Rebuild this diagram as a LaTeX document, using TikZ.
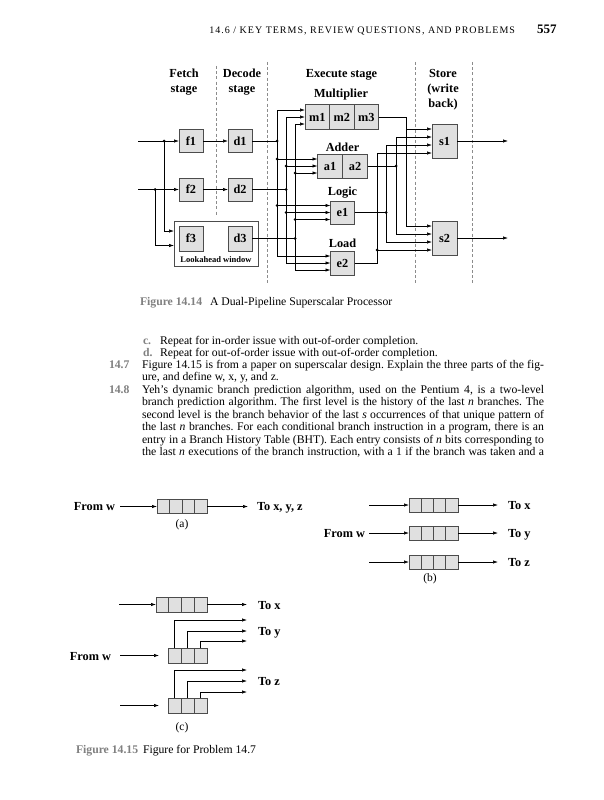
\documentclass[tikz,border=0pt]{standalone}
\usepackage{fontspec}
\setmainfont{Liberation Serif}
\usetikzlibrary{arrows.meta}
\definecolor{boxfill}{gray}{0.88}
\definecolor{boxline}{gray}{0.3}
\definecolor{labgray}{gray}{0.5}
\definecolor{sepgray}{gray}{0.55}
\frenchspacing
\begin{document}
\begin{tikzpicture}[x=1pt,y=-1pt,
  every node/.style={inner sep=0pt,outer sep=0pt},
  unit/.style={draw=boxline,fill=boxfill,line width=0.6pt,minimum width=24pt,minimum height=23pt,font=\fontsize{12.3}{13}\selectfont\bfseries},
  wire/.style={line width=0.65pt},
  arr/.style={wire,-{Latex[length=5pt,width=3.4pt]}},
  jdot/.style={circle,fill=black,minimum size=3pt},
  sep/.style={draw=sepgray,line width=0.6pt,dash pattern=on 3pt off 2.2pt},
  hd/.style={font=\fontsize{12.3}{15}\selectfont\bfseries,align=center},
  cell/.style={draw=boxline,fill=boxfill,line width=0.6pt,minimum height=14pt},
  lbl/.style={font=\fontsize{12.3}{13}\selectfont\bfseries},
  sub/.style={font=\fontsize{11.5}{13}\selectfont},
  body/.style={font=\fontsize{11.7}{12.2}\selectfont\frenchspacing,anchor=base west},
  num/.style={font=\fontsize{11.7}{12.2}\selectfont\bfseries,text=labgray,anchor=base west},
]
\path[fill=white] (0,0) rectangle (604,800);
\useasboundingbox (0,0) rectangle (604,800);

% running head
\node[anchor=base east,font=\fontsize{10}{12}\selectfont\addfontfeatures{LetterSpace=10}] (hdr) at (515,34) {14.6 / KEY TERMS, REVIEW QUESTIONS, AND PROBLEMS};
\node[anchor=base west,font=\fontsize{13}{14}\selectfont\bfseries] (pg) at (537,34) {557};

% ---------------- Figure 14.14 ----------------
\draw[sep] (216,66) -- (216,215);
\draw[sep] (267,62) -- (267,285);
\draw[sep] (415,62) -- (415,285);
\draw[sep] (472,62) -- (472,285);

\node[hd] (hfetch) at (184,82.5) {Fetch\\stage};
\node[hd] (hdec) at (242,82.5) {Decode\\stage};
\node[hd] (hexe) at (341.5,75) {Execute stage};
\node[hd] (hstore) at (443,89.5) {Store\\(write\\back)};

\node[draw=boxline,fill=white,line width=0.6pt,minimum width=84pt,minimum height=45pt] (look) at (216,243.5) {};
\node[font=\fontsize{8.5}{9}\selectfont\bfseries] (lookl) at (216,259.5) {Lookahead window};

\node[unit] (f1) at (191,141) {f1};
\node[unit] (d1) at (240,141) {d1};
\node[unit] (f2) at (191,189.5) {f2};
\node[unit] (d2) at (240,189.5) {d2};
\node[unit,minimum height=25pt] (f3) at (191,238.5) {f3};
\node[unit,minimum height=25pt] (d3) at (240,238.5) {d3};

\node[hd] (lmul) at (341,95) {Multiplier};
\node[unit,minimum width=24.5pt,minimum height=25pt] (m1) at (317.25,117) {m1};
\node[unit,minimum width=24.5pt,minimum height=25pt] (m2) at (341.75,117) {m2};
\node[unit,minimum width=24.5pt,minimum height=25pt] (m3) at (366.25,117) {m3};
\node[hd] (ladd) at (342.5,147) {Adder};
\node[unit,minimum width=25pt,minimum height=24pt] (a1) at (330,166) {a1};
\node[unit,minimum width=25pt,minimum height=24pt] (a2) at (355,166) {a2};
\node[hd] (llog) at (342.5,193) {Logic};
\node[unit] (e1) at (342.5,212.5) {e1};
\node[hd] (lload) at (342.5,243) {Load};
\node[unit,minimum height=24pt] (e2) at (342.5,263) {e2};
\node[unit,minimum width=25pt,minimum height=34pt] (s1) at (444.5,141) {s1};
\node[unit,minimum width=25pt,minimum height=34pt] (s2) at (444.5,238) {s2};

% fetch inputs
\coordinate (in1) at (138,141);
\coordinate (in2) at (138,189.5);
\coordinate (j1) at (164,141);
\coordinate (j2) at (155,189.5);
\coordinate (lw1) at (174,231);
\coordinate (lw2) at (174,245.5);
\draw[arr] (in1) -- (f1);
\draw[arr] (in2) -- (f2);
\draw[arr] (j1) |- (lw1);
\draw[arr] (j2) |- (lw2);
\node[jdot] (dj1) at (j1) {};
\node[jdot] (dj2) at (j2) {};
\draw[arr] (f1) -- (d1);
\draw[arr] (f2) -- (d2);

% dispatch buses
\foreach \bx/\bn/\ym/\ya/\yea/\yeb in {277/1/110/159/205.5/256, 286/2/117/166/212.5/263, 295/3/124/173/219.5/270} {
  \coordinate (bm\bn) at (\bx,\ym);
  \coordinate (ba\bn) at (\bx,\ya);
  \coordinate (be\bn) at (\bx,\yea);
  \coordinate (bl\bn) at (\bx,\yeb);
  \draw[wire] (bm\bn) -- (bl\bn);
  \draw[arr] (bm\bn) -- (bm\bn -| m1.west);
  \draw[arr] (ba\bn) -- (ba\bn -| a1.west);
  \draw[arr] (be\bn) -- (be\bn -| e1.west);
  \draw[arr] (bl\bn) -- (bl\bn -| e2.west);
  \node[jdot] (dA\bn) at (ba\bn) {};
  \node[jdot] (dE\bn) at (be\bn) {};
}
\coordinate (jd1) at (bm1 |- d1);
\coordinate (jd2) at (bm2 |- d2);
\coordinate (jd3) at (bm3 |- d3);
\draw[wire] (d1) -- (jd1);
\draw[wire] (d2) -- (jd2);
\draw[wire] (d3) -- (jd3);
\node[jdot] (dd1) at (jd1) {};
\node[jdot] (dd2) at (jd2) {};
\node[jdot] (dd3) at (jd3) {};

% result buses to store stage
\foreach \ox/\on/\ya/\yb in {406/1/129/226, 396/2/137/234, 386/3/145/242, 377/4/153/250} {
  \coordinate (os\on) at (\ox,\ya);
  \coordinate (ot\on) at (\ox,\yb);
  \draw[arr] (os\on) -- (os\on -| s1.west);
  \draw[arr] (ot\on) -- (ot\on -| s2.west);
}
\coordinate (om) at (406,117);
\coordinate (oa) at (396,166);
\coordinate (oe) at (386,212.5);
\coordinate (ol) at (377,263);
\draw[wire] (m3) -- (om) -- (ot1);
\draw[wire] (a2) -- (oa);
\draw[wire] (os2) -- (ot2);
\draw[wire] (e1) -- (oe);
\draw[wire] (os3) -- (ot3);
\draw[wire] (e2) -- (ol) -- (os4);
\node[jdot] (doa) at (oa) {};
\node[jdot] (doe) at (oe) {};
\node[jdot] (dol) at (ot4) {};

\coordinate (out1) at (508,141);
\coordinate (out2) at (508,238);
\draw[arr] (s1) -- (out1);
\draw[arr] (s2) -- (out2);

% caption 14.14
\node[num] (cap1a) at (140,305.5) {Figure 14.14};
\node[body] (cap1b) at (210,305.5) {A Dual-Pipeline Superscalar Processor};

% ---------------- text ----------------
\node[num] (lc) at (143,344) {c.};
\node[body] (tc) at (160,344) {Repeat for in-order issue with out-of-order completion.};
\node[num] (ld) at (143,356.2) {d.};
\node[body] (td) at (160,356.2) {Repeat for out-of-order issue with out-of-order completion.};
\node[num] (l147) at (109,368.4) {14.7};
\node[body] (t1471) at (142,368.4) {\makebox[402pt][s]{Figure 14.15 is from a paper on superscalar design. Explain the three parts of the fig-}};
\node[body] (t1472) at (142,380.6) {ure, and define w, x, y, and z.};
\node[num] (l148) at (109,393.5) {14.8};
\node[body] (t1481) at (142,393.5) {\makebox[402pt][s]{Yeh’s dynamic branch prediction algorithm, used on the Pentium 4, is a two-level}};
\node[body] (t1482) at (142,405.9) {\makebox[402pt][s]{branch prediction algorithm. The first level is the history of the last \textit{n} branches. The}};
\node[body] (t1483) at (142,418.3) {\makebox[402pt][s]{second level is the branch behavior of the last \textit{s} occurrences of that unique pattern of}};
\node[body] (t1484) at (142,430.7) {\makebox[402pt][s]{the last \textit{n} branches. For each conditional branch instruction in a program, there is an}};
\node[body] (t1485) at (142,443.1) {\makebox[402pt][s]{entry in a Branch History Table (BHT). Each entry consists of \textit{n} bits corresponding to}};
\node[body] (t1486) at (142,455.5) {\makebox[402pt][s]{the last \textit{n} executions of the branch instruction, with a 1 if the branch was taken and a}};

% ---------------- Figure 14.15 ----------------
% (a)
\foreach \i in {1,...,4} \node[cell,minimum width=12.5pt,minimum height=13.5pt] (qa\i) at ({157+12.5*(\i-0.5)},506.5) {};
\node[lbl,anchor=base east] (fwa) at (115,510.5) {From w};
\coordinate (sa) at (120,506.5);
\coordinate (ea) at (248,506.5);
\draw[arr] (sa) -- (qa1);
\draw[arr] (qa4) -- (ea);
\node[lbl,anchor=base west] (toa) at (257,510.5) {To x, y, z};
\node[sub] (capa) at (182,525) {(a)};

% (b)
\foreach \r/\y in {1/505,2/533,3/562} {
  \foreach \i in {1,...,4} \node[cell,minimum width=12.25pt] (qb\r\i) at ({409+12.25*(\i-0.5)},\y) {};
  \coordinate (sb\r) at (369,\y);
  \coordinate (eb\r) at (498,\y);
  \draw[arr] (sb\r) -- (qb\r1);
  \draw[arr] (qb\r4) -- (eb\r);
}
\node[lbl,anchor=base west] (tbx) at (508,509) {To x};
\node[lbl,anchor=base west] (tby) at (508,537) {To y};
\node[lbl,anchor=base west] (tbz) at (508,566) {To z};
\node[lbl,anchor=base east] (fwb) at (365,537) {From w};
\node[sub] (capb) at (430,579) {(b)};

% (c)
\foreach \i in {1,...,4} \node[cell,minimum width=12.75pt,minimum height=15pt] (qc\i) at ({156+12.75*(\i-0.5)},604.5) {};
\coordinate (sc) at (119,604.5);
\coordinate (ec) at (247,604.5);
\draw[arr] (sc) -- (qc1);
\draw[arr] (qc4) -- (ec);
\node[lbl,anchor=base west] (tcx) at (258,609) {To x};

\foreach \i in {1,2,3} \node[cell,minimum width=13pt,minimum height=15pt] (qm\i) at ({168+13*(\i-0.5)},655.5) {};
\foreach \i/\y in {1/620,2/631,3/641} {
  \coordinate (tm\i) at (247,\y);
  \draw[arr] (qm\i.north) |- (tm\i);
}
\node[lbl,anchor=base west] (tcy) at (258,635) {To y};
\coordinate (cm0) at (120,655.5);
\coordinate (cm1) at (159,655.5);
\draw[arr] (cm0) -- (cm1);
\node[lbl,anchor=base east] (fwc) at (111,660) {From w};

\foreach \i in {1,2,3} \node[cell,minimum width=13pt,minimum height=15pt] (qn\i) at ({168+13*(\i-0.5)},705.5) {};
\foreach \i/\y in {1/670,2/681,3/692} {
  \coordinate (tn\i) at (247,\y);
  \draw[arr] (qn\i.north) |- (tn\i);
}
\node[lbl,anchor=base west] (tcz) at (258,685) {To z};
\coordinate (cn0) at (120,705.5);
\coordinate (cn1) at (159,705.5);
\draw[arr] (cn0) -- (cn1);
\node[sub] (capc) at (182,728) {(c)};

\node[num] (cap2a) at (76,753) {Figure 14.15};
\node[body] (cap2b) at (143,753) {Figure for Problem 14.7};
\end{tikzpicture}
\end{document}
